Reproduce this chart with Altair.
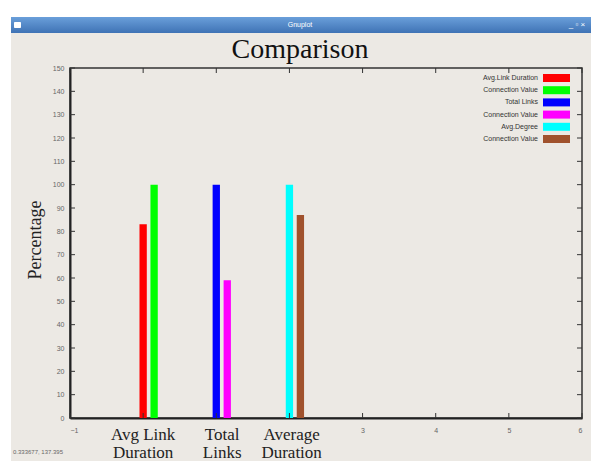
import altair as alt
import pandas as pd

# ---- data ----
series_names = ["Avg.Link Duration", "Connection Value", "Total Links",
                "Connection Value", "Avg.Degree", "Connection Value"]
bar_x = [0.0, 0.15, 1.0, 1.15, 2.0, 2.15]
bar_values = [83, 100, 100, 59, 100, 87]
bar_colors = ["#FF0000", "#00FF00", "#0000FF", "#FF00FF", "#00FFFF", "#A0522D"]

category_labels = ["Avg Link\nDuration", "Total\nLinks", "Average\nDuration"]
category_x = [0.0, 1.08, 2.03]

x_tick_values = [-1, 0, 1, 2, 3, 4, 5, 6]
x_tick_labelled = [-1, 3, 4, 5, 6]
y_tick_values = [0, 10, 20, 30, 40, 50, 60, 70, 80, 90, 100, 110, 120, 130, 140, 150]

BAR_HALF = 0.05
W, H = 512, 350

bar_df = pd.DataFrame({
    "series": series_names,
    "x0": [v - BAR_HALF for v in bar_x],
    "x1": [v + BAR_HALF for v in bar_x],
    "value": bar_values,
    "base": [0] * len(bar_values),
    "color": bar_colors,
})
cat_df = pd.DataFrame({"label": category_labels, "x": category_x})
xt_df = pd.DataFrame({"v": x_tick_values})
yt_df = pd.DataFrame({"v": y_tick_values})
leg_df = pd.DataFrame({"label": series_names, "color": bar_colors,
                       "i": list(range(len(series_names)))})
one = pd.DataFrame({"a": [0]})

xs = alt.Scale(domain=[-1, 6], nice=False, zero=False)
ys = alt.Scale(domain=[0, 150], nice=False)

tick_font = "Liberation Sans"

x_axis = alt.Axis(
    values=x_tick_labelled, title=None, grid=False, tickSize=0,
    domain=True, domainColor="#222", domainWidth=2,
    labelFontSize=7, labelColor="#666", labelFont=tick_font, labelPadding=8)
y_axis = alt.Axis(
    values=y_tick_values, title=None, grid=False, tickSize=0,
    domain=True, domainColor="#222", domainWidth=2,
    labelFontSize=7, labelColor="#666", labelFont=tick_font, labelPadding=6)

bars = alt.Chart(bar_df).mark_rect().encode(
    x=alt.X("x0:Q", scale=xs, axis=x_axis),
    x2="x1:Q",
    y=alt.Y("value:Q", scale=ys, axis=y_axis),
    y2="base:Q",
    color=alt.Color("color:N", scale=None),
)

tick_style = dict(color="#333", strokeWidth=1)
ytick_l = alt.Chart(yt_df).mark_rule(**tick_style).encode(
    y=alt.Y("v:Q", scale=ys, axis=y_axis), x=alt.value(0), x2=alt.value(5))
ytick_r = alt.Chart(yt_df).mark_rule(**tick_style).encode(
    y=alt.Y("v:Q", scale=ys, axis=y_axis), x=alt.value(W - 5), x2=alt.value(W))
xtick_b = alt.Chart(xt_df).mark_rule(**tick_style).encode(
    x=alt.X("v:Q", scale=xs, axis=x_axis), y=alt.value(H - 5), y2=alt.value(H))
xtick_t = alt.Chart(xt_df).mark_rule(**tick_style).encode(
    x=alt.X("v:Q", scale=xs, axis=x_axis), y=alt.value(0), y2=alt.value(5))

cats = alt.Chart(cat_df).mark_text(
    font="Liberation Serif", fontSize=17, color="#222", align="center",
    baseline="alphabetic", lineBreak="\n", lineHeight=17.5
).encode(x=alt.X("x:Q", scale=xs, axis=x_axis), y=alt.value(372), text="label:N")

leg_base = alt.Chart(leg_df).transform_calculate(
    py="10 + datum.i * 12.2", py0="6 + datum.i * 12.2", py1="14 + datum.i * 12.2")
leg_text = leg_base.mark_text(
    align="right", baseline="middle", fontSize=7, font=tick_font, color="#333"
).encode(x=alt.value(468), y=alt.Y("py:Q", scale=None, axis=None), text="label:N")
leg_rect = leg_base.mark_rect().encode(
    x=alt.value(473), x2=alt.value(500),
    y=alt.Y("py0:Q", scale=None, axis=None), y2="py1:Q",
    color=alt.Color("color:N", scale=None))

# ---- window decoration ----
white_top = alt.Chart(one).mark_rect(color="white").encode(
    x=alt.value(-62), x2=alt.value(W + 9), y=alt.value(-60), y2=alt.value(-51))
white_left = alt.Chart(one).mark_rect(color="white").encode(
    x=alt.value(-62), x2=alt.value(-59), y=alt.value(-60), y2=alt.value(H + 43))
titlebar = alt.Chart(one).mark_rect(
    color=alt.LinearGradient(gradient="linear", x1=0, y1=0, x2=0, y2=1,
                             stops=[alt.GradientStop(color="#6A9FDA", offset=0),
                                    alt.GradientStop(color="#3F73B5", offset=1)])
).encode(x=alt.value(-59), x2=alt.value(W + 9), y=alt.value(-51), y2=alt.value(-35))
win_icon = alt.Chart(one).mark_rect(color="white", cornerRadius=1).encode(
    x=alt.value(-56), x2=alt.value(-49), y=alt.value(-46), y2=alt.value(-40))
win_title = alt.Chart(one).mark_text(
    text="Gnuplot", color="white", fontSize=7, font=tick_font, baseline="middle"
).encode(x=alt.value(230), y=alt.value(-43))
win_btns = alt.Chart(one).mark_text(
    text="_  ▫  ×", color="white", fontSize=8, font=tick_font, baseline="middle"
).encode(x=alt.value(507), y=alt.value(-43))

title = alt.Chart(one).mark_text(
    text="Comparison", font="Liberation Serif", fontSize=28, color="#111",
    baseline="alphabetic"
).encode(x=alt.value(230), y=alt.value(-10))
ylabel = alt.Chart(one).mark_text(
    text="Percentage", font="Liberation Serif", fontSize=18, color="#222",
    angle=270, baseline="middle"
).encode(x=alt.value(-34), y=alt.value(172))
coords = alt.Chart(one).mark_text(
    text="0.333677,  137.395", font=tick_font, fontSize=6, color="#666",
    align="left", baseline="middle"
).encode(x=alt.value(-57), y=alt.value(384))

chart = alt.layer(
    white_top, white_left, titlebar, win_icon, win_title, win_btns,
    title, ylabel, coords,
    bars, ytick_l, ytick_r, xtick_b, xtick_t, cats, leg_text, leg_rect
).properties(
    width=W, height=H,
    padding={"left": 62, "top": 60, "right": 9, "bottom": 43},
    autosize="none", background="#ECE9E4"
).configure_view(stroke="#333", strokeWidth=1.5)

chart.save("out.html", embed_options={"renderer": "svg", "actions": False})
